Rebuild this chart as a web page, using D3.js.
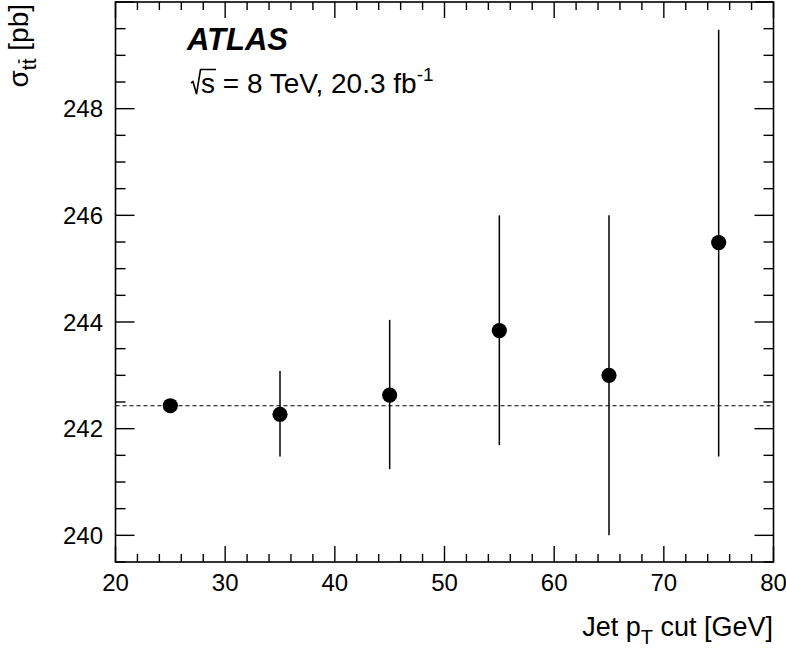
<!DOCTYPE html>
<html><head><meta charset="utf-8">
<script src="https://cdn.jsdelivr.net/npm/d3@7"></script>
<style>body{margin:0;background:#fff}svg{display:block}text{font-family:"Liberation Sans",Arial,sans-serif}</style>
</head><body><svg id="c" width="786" height="654"></svg>
<script>
const jetPtCut = [25, 35, 45, 55, 65, 75];
const sigma = [242.43, 242.27, 242.63, 243.84, 243.0, 245.49];
const errLow = [242.43, 241.48, 241.24, 241.69, 240.0, 241.48];
const errHigh = [242.43, 243.08, 244.04, 246.0, 246.0, 249.48];
const refValue = 242.43;
const xTicks = [20, 30, 40, 50, 60, 70, 80];
const yTicks = [240, 242, 244, 246, 248];

const svg = d3.select("#c");
const L = 115.5, R = 773.5, T = 2, B = 562;
const x = d3.scaleLinear().domain([20, 80]).range([L, R]);
const y = d3.scaleLinear().domain([239.5, 250]).range([B, T]);
const fs = 24;

svg.append("rect").attr("x", L).attr("y", T).attr("width", R - L).attr("height", B - T)
  .attr("fill", "none").attr("stroke", "#000").attr("stroke-width", 1.6);

const xMinor = d3.range(20, 80.01, 2);
const yMinor = d3.range(239.5, 250.01, 0.5);
const g = svg.append("g").attr("stroke", "#000").attr("stroke-width", 1.4);
xMinor.forEach(v => {
  const major = Math.abs(v % 10) < 1e-6;
  const len = major ? 16 : 8;
  g.append("line").attr("x1", x(v)).attr("x2", x(v)).attr("y1", B).attr("y2", B - len);
  g.append("line").attr("x1", x(v)).attr("x2", x(v)).attr("y1", T).attr("y2", T + len);
});
yMinor.forEach(v => {
  const major = Math.abs(v % 2) < 1e-6;
  const len = major ? 19 : 10;
  g.append("line").attr("y1", y(v)).attr("y2", y(v)).attr("x1", L).attr("x2", L + len);
  g.append("line").attr("y1", y(v)).attr("y2", y(v)).attr("x1", R).attr("x2", R - len);
});

svg.append("g").selectAll("text").data(xTicks).join("text")
  .attr("x", d => x(d)).attr("y", 591).attr("text-anchor", "middle")
  .attr("font-size", fs).text(d => d);
svg.append("g").selectAll("text").data(yTicks).join("text")
  .attr("x", 103).attr("y", d => y(d)).attr("dy", "0.36em").attr("text-anchor", "end")
  .attr("font-size", fs).text(d => d);

const xt = svg.append("text").attr("x", 773).attr("y", 636).attr("text-anchor", "end").attr("font-size", 27);
xt.append("tspan").text("Jet p");
xt.append("tspan").attr("font-size", 20).attr("dy", 8).text("T");
xt.append("tspan").attr("dy", -8).text(" cut [GeV]");

const yt = svg.append("text").attr("transform", "translate(28,4) rotate(-90)")
  .attr("text-anchor", "end").attr("font-size", 28);
yt.append("tspan").text("σ");
yt.append("tspan").attr("font-size", 21).attr("dy", 8).text("tt");
yt.append("tspan").attr("dy", -8).text(" [pb]");
try {
  const tn = yt.node();
  const p = tn.getStartPositionOfChar(2), e = tn.getEndPositionOfChar(2);
  svg.append("line").attr("transform", "translate(28,4) rotate(-90)")
    .attr("x1", p.x + 1).attr("x2", e.x - 1).attr("y1", p.y - 17).attr("y2", p.y - 17)
    .attr("stroke", "#000").attr("stroke-width", 1.4);
} catch (err) {}

svg.append("line").attr("x1", L).attr("x2", R).attr("y1", y(refValue)).attr("y2", y(refValue))
  .attr("stroke", "#000").attr("stroke-width", 1.1).attr("stroke-dasharray", "4,3");

const pts = jetPtCut.map((v, i) => ({x: v, y: sigma[i], lo: errLow[i], hi: errHigh[i]}));
svg.append("g").selectAll("line").data(pts).join("line")
  .attr("x1", d => x(d.x)).attr("x2", d => x(d.x))
  .attr("y1", d => y(d.hi)).attr("y2", d => y(d.lo))
  .attr("stroke", "#000").attr("stroke-width", 1.5);
svg.append("g").selectAll("circle").data(pts).join("circle")
  .attr("cx", d => x(d.x)).attr("cy", d => y(d.y)).attr("r", 7.6).attr("fill", "#000");

svg.append("text").attr("x", 187).attr("y", 50).attr("font-size", 31)
  .attr("font-weight", "bold").attr("font-style", "italic").text("ATLAS");
// sqrt(s) drawn as radical path + text
const sx = 201;
const t2 = svg.append("text").attr("x", sx).attr("y", 93).attr("font-size", 28);
const sTs = t2.append("tspan").text("s");
t2.append("tspan").text(" = 8 TeV, 20.3 fb");
t2.append("tspan").attr("font-size", 19).attr("dy", -12).text("-1");
let sw = 14;
try { sw = sTs.node().getComputedTextLength(); } catch (err) {}
svg.append("path")
  .attr("d", `M${sx - 10},83 L${sx - 8},81.5 L${sx - 4.5},94 L${sx - 0.5},69.5 H${sx + sw + 1}`)
  .attr("fill", "none").attr("stroke", "#000").attr("stroke-width", 1.6).attr("stroke-linejoin", "miter");
</script></body></html>
